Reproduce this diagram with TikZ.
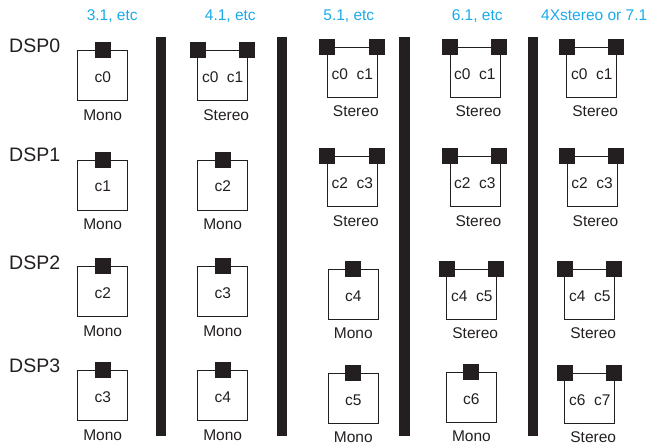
\documentclass[tikz,border=0pt]{standalone}
\usepackage{fontspec}
\setmainfont{Liberation Sans}
\definecolor{ink}{HTML}{231F20}
\definecolor{cyantitle}{HTML}{1AAAE8}
\newcommand{\lblfont}{\fontsize{15.5bp}{18bp}\selectfont}
\newcommand{\dspfont}{\fontsize{19.5bp}{22bp}\selectfont}
\tikzset{
  cellbox/.style={draw=ink, line width=0.8bp, minimum width=50bp, minimum height=50bp, inner sep=0pt},
  sq/.style={fill=ink, draw=none, minimum width=16bp, minimum height=16bp, inner sep=0pt},
  ctext/.style={text=ink, font=\lblfont, inner sep=0pt, anchor=base},
  lbl/.style={text=ink, font=\lblfont, inner sep=0pt, anchor=base},
  dsp/.style={text=ink, font=\dspfont, inner sep=0pt, anchor=base west},
  ttl/.style={text=cyantitle, font=\lblfont, inner sep=0pt, anchor=base},
  bar/.style={fill=ink}
}
\newcommand{\monocell}[4]{%
  \node[cellbox] (#1) at (#2,{#3+25}) {};
  \node[sq] (#1-s) at (#1.north) {};
  \node[ctext] (#1-t) at (#2,{#3+32}) {#4};
  \node[lbl] (#1-l) at (#2,{#3+69.5}) {Mono};
}
\newcommand{\stereocell}[5]{%
  \node[cellbox] (#1) at (#2,{#3+25}) {};
  \node[sq] (#1-a) at ([xshift=0.5bp]#1.north west) {};
  \node[sq] (#1-b) at ([xshift=-1bp]#1.north east) {};
  \node[ctext] (#1-t) at (#2,{#3+32}) {#4\ \ #5};
  \node[lbl] (#1-l) at ({#2+3.5},{#3+69.5}) {Stereo};
}
\begin{document}
\begin{tikzpicture}[x=1bp,y=-1bp]
\useasboundingbox (0,0) rectangle (652,446);
% titles
\node[ttl] (t1) at (112.2,21) {3.1, etc};
\node[ttl] (t2) at (230.3,21) {4.1, etc};
\node[ttl] (t3) at (348.8,21) {5.1, etc};
\node[ttl] (t4) at (477.2,21) {6.1, etc};
\node[ttl] (t5) at (594.2,21) {4Xstereo or 7.1};
% DSP labels
\node[dsp] (d0) at (9,52.7) {DSP0};
\node[dsp] (d1) at (9,161.7) {DSP1};
\node[dsp] (d2) at (9,269.3) {DSP2};
\node[dsp] (d3) at (9,372.7) {DSP3};
% bars
\fill[bar] (156,36.7) rectangle (165.7,436);
\fill[bar] (276.7,36.7) rectangle (287.3,436);
\fill[bar] (399.3,36.7) rectangle (410,436);
\fill[bar] (527.7,36.7) rectangle (538.3,436);
% column 1
\monocell{a0}{102.7}{50.7}{c0}
\monocell{a1}{102.7}{160}{c1}
\monocell{a2}{102.7}{266.7}{c2}
\monocell{a3}{102.7}{370.7}{c3}
% column 2
\stereocell{b0}{222.7}{50.7}{c0}{c1}
\monocell{b1}{222.7}{160}{c2}
\monocell{b2}{222.7}{266.7}{c3}
\monocell{b3}{222.7}{370.7}{c4}
% column 3
\stereocell{e0}{352.3}{47.3}{c0}{c1}
\stereocell{e1}{352.3}{156.7}{c2}{c3}
\monocell{e2}{353.3}{269.3}{c4}
\monocell{e3}{353.3}{373.3}{c5}
% column 4
\stereocell{f0}{474.9}{47.3}{c0}{c1}
\stereocell{f1}{474.9}{156.7}{c2}{c3}
\stereocell{f2}{471.7}{269.3}{c4}{c5}
\monocell{f3}{471.4}{372.3}{c6}
% column 5
\stereocell{g0}{591.7}{47.3}{c0}{c1}
\stereocell{g1}{592}{156.7}{c2}{c3}
\stereocell{g2}{589.7}{269.3}{c4}{c5}
\stereocell{g3}{589.7}{373.3}{c6}{c7}
\end{tikzpicture}
\end{document}
